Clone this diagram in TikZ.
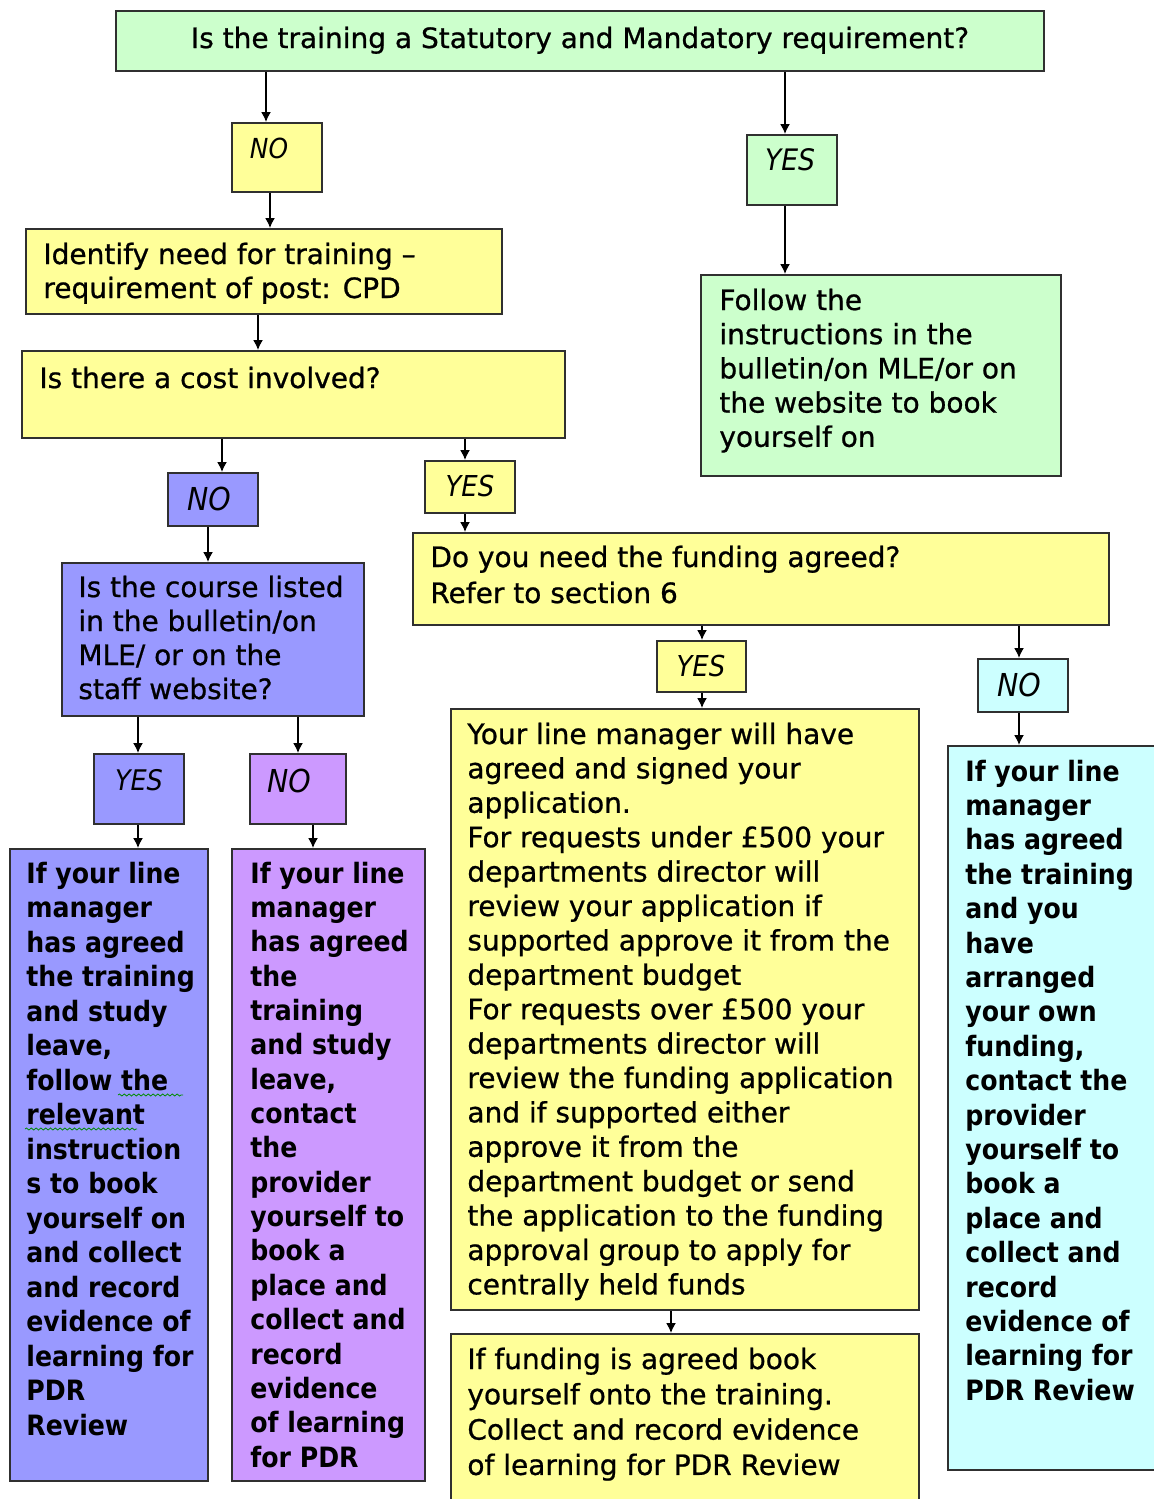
\documentclass[tikz,border=0pt]{standalone}
\usepackage{fontspec}
\setmainfont{DejaVu Sans}[RawFeature={embolden=0.8}]
\newfontfamily\colfont{DejaVu Sans Condensed Bold}
\newfontfamily\labfont{DejaVu Sans Condensed Oblique}
\usetikzlibrary{arrows.meta,fit,decorations.pathmorphing}
\definecolor{cyel}{HTML}{FFFF99}
\definecolor{cgrn}{HTML}{CCFFCC}
\definecolor{cblu}{HTML}{9999FF}
\definecolor{cpur}{HTML}{CC99FF}
\definecolor{ccya}{HTML}{CCFFFF}
\definecolor{cedge}{HTML}{303030}
\tikzset{
  boxst/.style={draw=cedge, line width=1pt, inner sep=0pt, rectangle},
  arr/.style={draw=black, line width=0.75pt, -{Latex[length=5pt,width=5pt]}},
  labst/.style={inner sep=0pt, font=\labfont},
  squig/.style={draw=green!55!black, line width=0.4pt, decorate,
    decoration={snake, segment length=2.4pt, amplitude=0.5pt}}
}
% box: name, x1, y1, x2, y2, colour
\newcommand\mybox[6]{\node[boxst, fill=#6, fit={(#2,-#3) (#4,-#5)}] (#1) {};}
% text block: name, x, first baseline y, baselineskip, text
\newcommand\mytext[5]{\node[inner sep=0pt, anchor=base west] (#1) at (#2,-#3)
  {\parbox[t]{400pt}{\raggedright\fontsize{14pt}{#4}\selectfont #5}};}
\begin{document}
\begin{tikzpicture}[x=0.5pt,y=0.5pt]
\useasboundingbox (0,0) rectangle (1154,-1499);
\clip (0,0) rectangle (1154,-1499);
\fill[white] (0,0) rectangle (1154,-1499);

% x positions of connectors
\coordinate (ax1) at (266,0);
\coordinate (ax2) at (270,0);
\coordinate (ax3) at (785,0);
\coordinate (ax4) at (258,0);
\coordinate (ax5) at (222,0);
\coordinate (ax6) at (465,0);
\coordinate (ax7) at (208,0);
\coordinate (ax8) at (702,0);
\coordinate (ax9) at (1019,0);
\coordinate (ax10) at (138,0);
\coordinate (ax11) at (298,0);
\coordinate (ax12) at (313,0);
\coordinate (ax13) at (671,0);

% boxes
\mybox{top}{116}{11}{1044}{71}{cgrn}
\mybox{noA}{232}{123}{322}{192}{cyel}
\mybox{yesA}{747}{135}{837}{205}{cgrn}
\mybox{ident}{26}{229}{502}{314}{cyel}
\mybox{follow}{701}{275}{1061}{476}{cgrn}
\mybox{cost}{22}{351}{565}{438}{cyel}
\mybox{noB}{168}{473}{258}{526}{cblu}
\mybox{yesC}{425}{461}{515}{513}{cyel}
\mybox{fund}{413}{533}{1109}{625}{cyel}
\mybox{listq}{62}{563}{364}{716}{cblu}
\mybox{yesD}{657}{641}{746}{692}{cyel}
\mybox{noC}{978}{659}{1068}{712}{ccya}
\mybox{mid}{451}{709}{919}{1310}{cyel}
\mybox{yesB}{94}{754}{184}{824}{cblu}
\mybox{noP}{250}{754}{346}{824}{cpur}
\mybox{cyanbig}{948}{746}{1160}{1470}{ccya}
\mybox{bluebig}{10}{849}{208}{1481}{cblu}
\mybox{purbig}{232}{849}{425}{1481}{cpur}
\mybox{fin}{451}{1334}{919}{1510}{cyel}

% labels
\node[labst, font=\labfont\fontsize{13.8pt}{16pt}\selectfont] (tnoA) at (269,-148) {NO};
\node[labst, font=\labfont\fontsize{14.8pt}{17pt}\selectfont] (tyesA) at (790,-160) {YES};
\node[labst, font=\labfont\fontsize{15.8pt}{18pt}\selectfont] (tnoB) at (209,-499) {NO};
\node[labst, font=\labfont\fontsize{14.4pt}{17pt}\selectfont] (tyesC) at (470,-486) {YES};
\node[labst, font=\labfont\fontsize{14.4pt}{17pt}\selectfont] (tyesD) at (701,-666) {YES};
\node[labst, font=\labfont\fontsize{15.8pt}{18pt}\selectfont] (tnoC) at (1019,-685) {NO};
\node[labst, font=\labfont\fontsize{14.2pt}{17pt}\selectfont] (tyesB) at (139,-780) {YES};
\node[labst, font=\labfont\fontsize{15.8pt}{18pt}\selectfont] (tnoP) at (289,-781) {NO};

% texts
\node[inner sep=0pt, anchor=base, font=\fontsize{14pt}{17pt}\selectfont] (ttop) at (580,-48)
  {Is the training a Statutory and Mandatory requirement?};
\mytext{tident}{43}{264}{17pt}{Identify need for training –\\requirement of post: CPD}
\mytext{tfollow}{719}{310}{17.1pt}{Follow the\\instructions in the\\bulletin/on MLE/or on\\the website to book\\yourself on}
\mytext{tcost}{39}{388}{17pt}{Is there a cost involved?}
\mytext{tfund}{430}{567}{18pt}{Do you need the funding agreed?\\Refer to section 6}
\mytext{tlistq}{78}{597}{17pt}{Is the course listed\\in the bulletin/on\\MLE/ or on the\\staff website?}
\mytext{tmid}{467}{744}{17.2pt}{Your line manager will have\\agreed and signed your\\application.\\For requests under £500 your\\departments director will\\review your application if\\supported approve it from the\\department budget\\For requests over £500 your\\departments director will\\review the funding application\\and if supported either\\approve it from the\\department budget or send\\the application to the funding\\approval group to apply for\\centrally held funds}
\mytext{tcyan}{965}{781}{17.2pt}{\colfont If your line\\manager\\has agreed\\the training\\and you\\have\\arranged\\your own\\funding,\\contact the\\provider\\yourself to\\book a\\place and\\collect and\\record\\evidence of\\learning for\\PDR Review}
\mytext{tblue}{26}{883}{17.25pt}{\colfont If your line\\manager\\has agreed\\the training\\and study\\leave,\\follow the\\relevant\\instruction\\s to book\\yourself on\\and collect\\and record\\evidence of\\learning for\\PDR\\Review}
\mytext{tpur}{250}{883}{17.18pt}{\colfont If your line\\manager\\has agreed\\the\\training\\and study\\leave,\\contact\\the\\provider\\yourself to\\book a\\place and\\collect and\\record\\evidence\\of learning\\for PDR}
\mytext{tfin}{467}{1369}{17.65pt}{If funding is agreed book\\yourself onto the training.\\Collect and record evidence\\of learning for PDR Review}

% spell-check squiggles
\draw[squig] (118,-1095) -- (183,-1095);
\draw[squig] (25,-1129) -- (137,-1129);

% connectors
\draw[arr] (top.south -| ax1) -- (noA.north -| ax1);
\draw[arr] (noA.south -| ax2) -- (ident.north -| ax2);
\draw[arr] (top.south -| ax3) -- (yesA.north -| ax3);
\draw[arr] (yesA.south -| ax3) -- (follow.north -| ax3);
\draw[arr] (ident.south -| ax4) -- (cost.north -| ax4);
\draw[arr] (cost.south -| ax5) -- (noB.north -| ax5);
\draw[arr] (cost.south -| ax6) -- (yesC.north -| ax6);
\draw[arr] (yesC.south -| ax6) -- (fund.north -| ax6);
\draw[arr] (noB.south -| ax7) -- (listq.north -| ax7);
\draw[arr] (fund.south -| ax8) -- (yesD.north -| ax8);
\draw[arr] (yesD.south -| ax8) -- (mid.north -| ax8);
\draw[arr] (fund.south -| ax9) -- (noC.north -| ax9);
\draw[arr] (noC.south -| ax9) -- (cyanbig.north -| ax9);
\draw[arr] (listq.south -| ax10) -- (yesB.north -| ax10);
\draw[arr] (yesB.south -| ax10) -- (bluebig.north -| ax10);
\draw[arr] (listq.south -| ax11) -- (noP.north -| ax11);
\draw[arr] (noP.south -| ax12) -- (purbig.north -| ax12);
\draw[arr] (mid.south -| ax13) -- (fin.north -| ax13);
\end{tikzpicture}
\end{document}
